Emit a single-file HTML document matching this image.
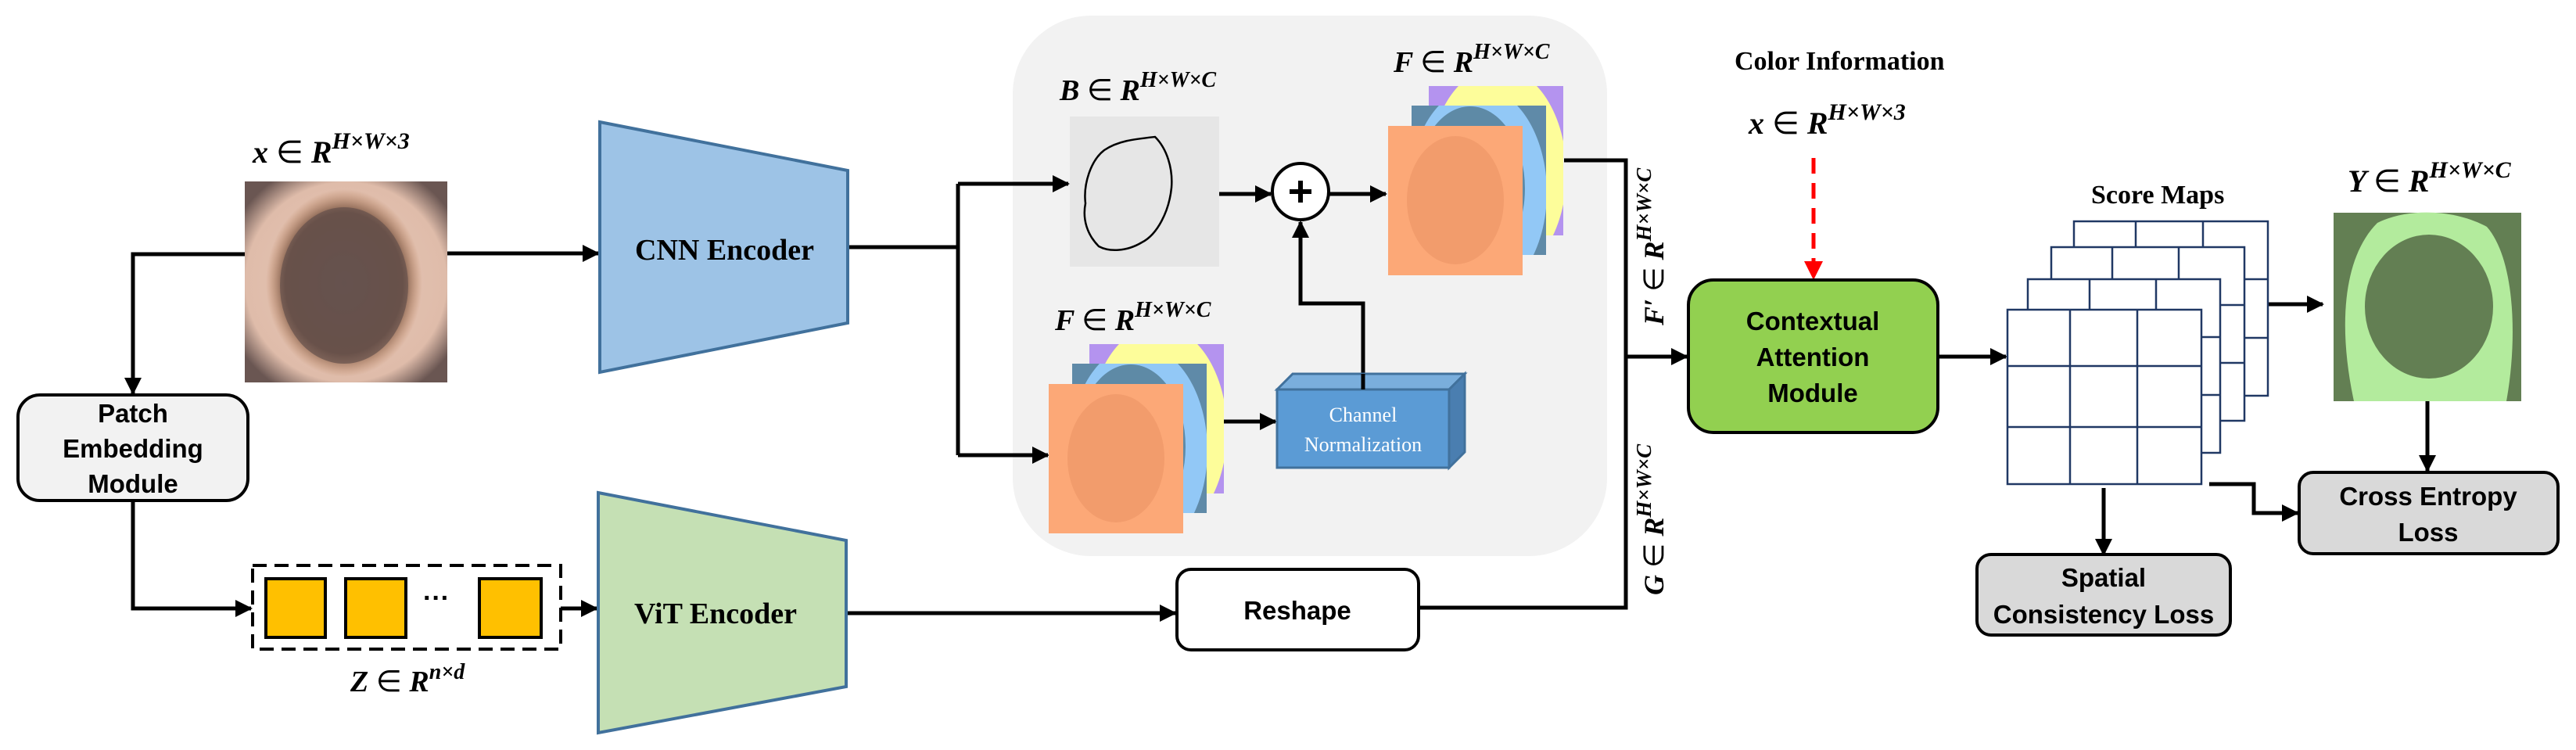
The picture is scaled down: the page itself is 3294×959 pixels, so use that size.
<!DOCTYPE html>
<html><head><meta charset="utf-8"><style>
html,body{margin:0;padding:0;background:#fff;}
svg{display:block;}
.m{font-family:"Liberation Serif",serif;font-style:italic;font-weight:bold;}
.s{font-family:"Liberation Serif",serif;font-weight:bold;}
.c{font-family:"Liberation Sans",sans-serif;font-weight:bold;}
</style></head><body>
<svg width="3294" height="959" viewBox="0 0 3294 959" xmlns="http://www.w3.org/2000/svg">
<defs>
<marker id="ah" markerWidth="22" markerHeight="22" refX="20" refY="11" orient="auto" markerUnits="userSpaceOnUse">
<path d="M0,0 L22,11 L0,22 Z" fill="#000"/></marker>
<marker id="ar" markerWidth="24" markerHeight="24" refX="22" refY="12" orient="auto" markerUnits="userSpaceOnUse">
<path d="M0,0 L24,12 L0,24 Z" fill="#f00"/></marker>
<radialGradient id="skin" cx="0.5" cy="0.5" r="0.62">
<stop offset="0" stop-color="#e6c6b6"/><stop offset="0.8" stop-color="#dfbcaa"/><stop offset="1" stop-color="#6a5652"/></radialGradient>
<radialGradient id="les" cx="0.5" cy="0.5" r="0.5">
<stop offset="0" stop-color="#6a5856"/><stop offset="0.75" stop-color="#725446"/><stop offset="1" stop-color="#b5784f" stop-opacity="0"/></radialGradient>
<clipPath id="cp"><rect x="52" y="-51" width="172" height="191"/></clipPath>
<clipPath id="cb"><rect x="30" y="-26" width="172" height="191"/></clipPath>
<g id="stack">
<rect x="52" y="-51" width="172" height="191" fill="#b493ef"/>
<ellipse cx="140" cy="60" rx="88" ry="135" fill="#fdfd9a" clip-path="url(#cp)"/>
<rect x="30" y="-26" width="172" height="191" fill="#5f8aa8"/>
<ellipse cx="115" cy="85" rx="88" ry="135" fill="#92c8f6" clip-path="url(#cb)"/>
<ellipse cx="105" cy="80" rx="70" ry="105" fill="#5e8aa6" clip-path="url(#cb)"/>
<rect x="0" y="0" width="172" height="191" fill="#fca877"/>
<ellipse cx="86" cy="95" rx="62" ry="82" fill="#f29c6c"/>
</g>
</defs>

<rect x="1295" y="20" width="760" height="691" rx="100" fill="#f2f2f2"/>

<text x="323" y="208" class="m" font-size="40">x  <tspan font-style="normal" font-weight="normal">∈</tspan> R<tspan dy="-18" font-size="30">H×W×3</tspan></text>

<rect x="313" y="232" width="259" height="257" fill="url(#skin)"/>
<ellipse cx="440" cy="362" rx="100" ry="120" fill="url(#les)"/>
<ellipse cx="440" cy="365" rx="82" ry="100" fill="#64504c" opacity="0.7"/>

<g stroke="#000" stroke-width="5" fill="none">
<line x1="572" y1="324" x2="765" y2="324" marker-end="url(#ah)"/>
<polyline points="313,325 170,325 170,503" marker-end="url(#ah)"/>
<polyline points="170,640 170,778 321,778" marker-end="url(#ah)"/>
<line x1="717" y1="778" x2="763" y2="778" marker-end="url(#ah)"/>
<polyline points="1084,316 1225,316"/>
<polyline points="1225,235 1225,582"/>
<line x1="1225" y1="235" x2="1366" y2="235" marker-end="url(#ah)"/>
<line x1="1225" y1="582" x2="1340" y2="582" marker-end="url(#ah)"/>
<line x1="1082" y1="784" x2="1503" y2="784" marker-end="url(#ah)"/>
<line x1="1555" y1="248" x2="1625" y2="248" marker-end="url(#ah)"/>
<line x1="1700" y1="248" x2="1772" y2="248" marker-end="url(#ah)"/>
<line x1="1562" y1="539" x2="1631" y2="539" marker-end="url(#ah)"/>
<polyline points="1743,478 1743,388 1663,388 1663,284" marker-end="url(#ah)"/>
<polyline points="2000,205 2079,205 2079,777 1814,777"/>
<line x1="2079" y1="456" x2="2157" y2="456" marker-end="url(#ah)"/>
<line x1="2478" y1="456" x2="2565" y2="456" marker-end="url(#ah)"/>
<line x1="2900" y1="389" x2="2970" y2="389" marker-end="url(#ah)"/>
<line x1="3104" y1="513" x2="3104" y2="602" marker-end="url(#ah)"/>
<polyline points="2825,619 2882,619 2882,656 2938,656" marker-end="url(#ah)"/>
<line x1="2690" y1="624" x2="2690" y2="709" marker-end="url(#ah)"/>
</g>

<rect x="23" y="505" width="294" height="135" rx="28" fill="#f2f2f2" stroke="#000" stroke-width="4"/>
<text class="c" font-size="33" text-anchor="middle" x="170" y="540">Patch</text>
<text class="c" font-size="33" text-anchor="middle" x="170" y="585">Embedding</text>
<text class="c" font-size="33" text-anchor="middle" x="170" y="630">Module</text>

<rect x="323" y="723" width="394" height="107" fill="none" stroke="#000" stroke-width="4" stroke-dasharray="18,10"/>
<rect x="340" y="740" width="76" height="75" fill="#ffc000" stroke="#000" stroke-width="4"/>
<rect x="442" y="740" width="77" height="75" fill="#ffc000" stroke="#000" stroke-width="4"/>
<rect x="613" y="740" width="79" height="75" fill="#ffc000" stroke="#000" stroke-width="4"/>
<text class="c" font-size="34" x="541" y="776">···</text>
<text x="448" y="884" class="m" font-size="38">Z <tspan font-style="normal" font-weight="normal">∈</tspan> R<tspan dy="-16" font-size="28">n×d</tspan></text>

<polygon points="767,156 1084,218 1084,413 767,476" fill="#9dc3e6" stroke="#41719c" stroke-width="4"/>
<text class="s" font-size="38" x="812" y="332">CNN Encoder</text>
<polygon points="765,630 1082,691 1082,878 765,937" fill="#c5e0b4" stroke="#41719c" stroke-width="4"/>
<text class="s" font-size="38" x="811" y="797">ViT Encoder</text>

<text x="1355" y="128" class="m" font-size="38">B  <tspan font-style="normal" font-weight="normal">∈</tspan> R<tspan dy="-17" font-size="28">H×W×C</tspan></text>
<rect x="1368" y="149" width="191" height="192" fill="#e6e6e6"/>
<path d="M1412,192 C1430,180 1450,178 1477,175 C1492,190 1500,215 1498,240 C1495,270 1480,300 1460,310 C1440,322 1418,322 1405,315 C1390,300 1384,280 1388,260 C1385,235 1395,205 1412,192 Z" fill="none" stroke="#000" stroke-width="2.5"/>

<circle cx="1663" cy="245" r="36" fill="#fff" stroke="#000" stroke-width="4"/>
<path d="M1649,245 H1677 M1663,231 V259" stroke="#000" stroke-width="6"/>

<text x="1782" y="92" class="m" font-size="38">F  <tspan font-style="normal" font-weight="normal">∈</tspan> R<tspan dy="-17" font-size="28">H×W×C</tspan></text>
<use href="#stack" x="1775" y="161"/>
<text x="1349" y="422" class="m" font-size="38">F  <tspan font-style="normal" font-weight="normal">∈</tspan> R<tspan dy="-17" font-size="28">H×W×C</tspan></text>
<use href="#stack" x="1341" y="491"/>

<polygon points="1633,498 1653,478 1873,478 1853,498" fill="#7aaedc" stroke="#41719c" stroke-width="3"/>
<polygon points="1853,498 1873,478 1873,578 1853,598" fill="#4a7eb0" stroke="#41719c" stroke-width="3"/>
<rect x="1633" y="498" width="220" height="100" fill="#5b9bd5" stroke="#41719c" stroke-width="3"/>
<line x1="1743" y1="478" x2="1743" y2="498" stroke="#000" stroke-width="5"/>
<text font-family="Liberation Serif,serif" font-size="26" fill="#fff" text-anchor="middle" x="1743" y="539">Channel</text>
<text font-family="Liberation Serif,serif" font-size="26" fill="#fff" text-anchor="middle" x="1743" y="577">Normalization</text>

<rect x="1505" y="728" width="309" height="103" rx="18" fill="#fff" stroke="#000" stroke-width="4"/>
<text class="c" font-size="33" text-anchor="middle" x="1659" y="792">Reshape</text>

<text class="m" font-size="36" transform="translate(2127,416) rotate(-90)">F′  <tspan font-style="normal" font-weight="normal">∈</tspan> R<tspan dy="-16" font-size="27">H×W×C</tspan></text>
<text class="m" font-size="36" transform="translate(2127,761) rotate(-90)">G <tspan font-style="normal" font-weight="normal">∈</tspan> R<tspan dy="-16" font-size="27">H×W×C</tspan></text>

<text class="s" font-size="34" x="2218" y="89">Color Information</text>
<text x="2236" y="171" class="m" font-size="40">x  <tspan font-style="normal" font-weight="normal">∈</tspan> R<tspan dy="-18" font-size="30">H×W×3</tspan></text>
<line x1="2319" y1="202" x2="2319" y2="356" stroke="#f00" stroke-width="5" stroke-dasharray="20,12" marker-end="url(#ar)"/>

<rect x="2159" y="358" width="319" height="195" rx="32" fill="#92d050" stroke="#000" stroke-width="4"/>
<text class="c" font-size="33" text-anchor="middle" x="2318" y="422">Contextual</text>
<text class="c" font-size="33" text-anchor="middle" x="2318" y="468">Attention</text>
<text class="c" font-size="33" text-anchor="middle" x="2318" y="514">Module</text>

<text class="s" font-size="34" x="2674" y="260">Score Maps</text>
<g stroke="#203864" stroke-width="2.5" fill="#fff">
<rect x="2652" y="283" width="248" height="223"/>
<path d="M2731,283V506 M2817,283V506 M2652,357H2900 M2652,432H2900" fill="none"/>
<rect x="2623" y="316" width="247" height="222"/>
<path d="M2701,316V538 M2786,316V538 M2623,390H2870 M2623,464H2870" fill="none"/>
<rect x="2593" y="357" width="246" height="222"/>
<path d="M2672,357V579 M2757,357V579 M2593,431H2839 M2593,505H2839" fill="none"/>
<rect x="2567" y="396" width="248" height="223"/>
<path d="M2647,396V619 M2733,396V619 M2567,468H2815 M2567,546H2815" fill="none"/>
</g>

<text x="3002" y="245" class="m" font-size="40">Y  <tspan font-style="normal" font-weight="normal">∈</tspan> R<tspan dy="-18" font-size="30">H×W×C</tspan></text>
<rect x="2984" y="272" width="240" height="241" fill="#637f53"/>
<path d="M3010,513 C2990,420 2995,330 3040,285 C3080,265 3140,268 3180,290 C3215,330 3220,430 3205,513 Z" fill="#b3eb9d"/>
<ellipse cx="3106" cy="392" rx="82" ry="92" fill="#637f53"/>

<rect x="2940" y="604" width="331" height="104" rx="18" fill="#d9d9d9" stroke="#000" stroke-width="4"/>
<text class="c" font-size="33" text-anchor="middle" x="3105" y="646">Cross Entropy</text>
<text class="c" font-size="33" text-anchor="middle" x="3105" y="692">Loss</text>
<rect x="2528" y="709" width="324" height="103" rx="18" fill="#d9d9d9" stroke="#000" stroke-width="4"/>
<text class="c" font-size="33" text-anchor="middle" x="2690" y="750">Spatial</text>
<text class="c" font-size="33" text-anchor="middle" x="2690" y="797">Consistency Loss</text>
</svg>
</body></html>
